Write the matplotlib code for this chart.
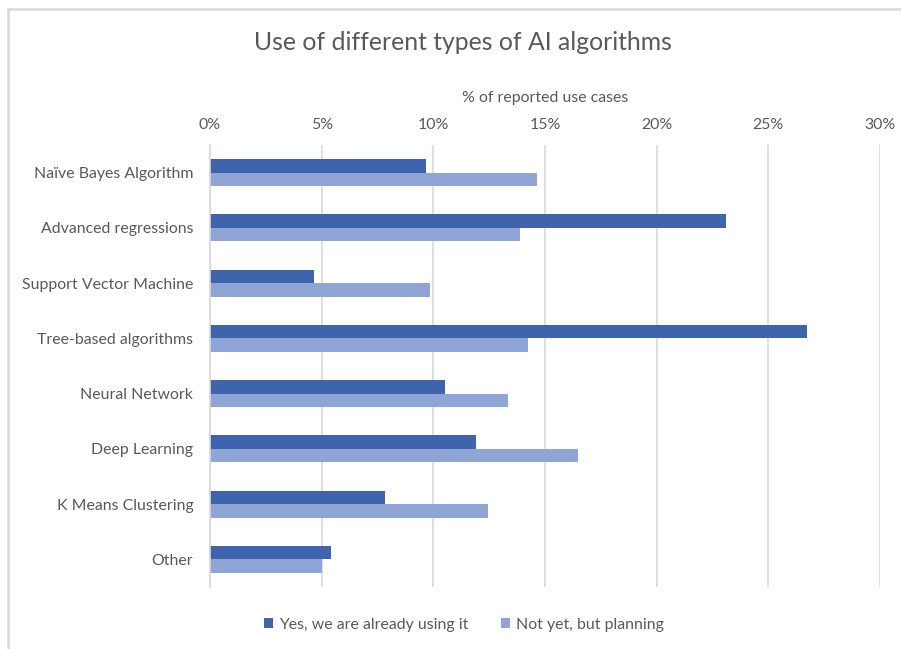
import matplotlib
matplotlib.use("Agg")
import matplotlib.pyplot as plt
import numpy as np
from matplotlib.lines import Line2D
from matplotlib.ticker import PercentFormatter

categories = ["Naïve Bayes Algorithm", "Advanced regressions", "Support Vector Machine",
              "Tree-based algorithms", "Neural Network", "Deep Learning",
              "K Means Clustering", "Other"]
using = [9.66, 23.1, 4.66, 26.72, 10.54, 11.9, 7.82, 5.41]
planning = [14.66, 13.88, 9.87, 14.25, 13.34, 16.49, 12.43, 5.0]
series_names = ["Yes, we are already using it", "Not yet, but planning"]

dark = "#3E64AD"
light = "#8FA5D5"
text_c = "#595959"
grid_c = "#D9D9D9"

plt.rcParams['font.family'] = ['Lato', 'DejaVu Sans']

fig = plt.figure(figsize=(9.01, 6.49), dpi=100)
ax = fig.add_axes([210/901, 1 - 587/649, 670/901, 442/649])

y = np.arange(len(categories))
h = 0.245
ax.barh(y - h/2, using, height=h, color=dark, label=series_names[0])
ax.barh(y + h/2, planning, height=h, color=light, label=series_names[1])

ax.set_ylim(len(categories) - 0.5, -0.5)
ax.set_xlim(0, 30)
ax.set_yticks(y)
ax.set_yticklabels(categories, fontsize=11.4, color=text_c)
ax.set_xticks(np.arange(0, 31, 5))
ax.xaxis.set_major_formatter(PercentFormatter(decimals=0))
ax.xaxis.tick_top()
ax.xaxis.set_label_position("top")
ax.tick_params(axis="x", length=0, labelsize=11.4, labelcolor=text_c, pad=9)
ax.tick_params(axis="y", length=0, pad=12)
ax.set_xlabel("% of reported use cases", fontsize=11.4, color=text_c, labelpad=12)
ax.grid(axis="x", color=grid_c, linewidth=1.2)
ax.set_axisbelow(True)
for s in ["top", "right", "bottom"]:
    ax.spines[s].set_visible(False)
ax.spines["left"].set_color(grid_c)
ax.spines["left"].set_linewidth(1.2)

fig.text(463/901, 1 - 42/649, "Use of different types of AI algorithms",
         ha="center", va="center", fontsize=17.8, color=text_c)

handles, labels = ax.get_legend_handles_labels()
fig.legend(handles, labels, loc="center", bbox_to_anchor=(464/901, 1 - 625/649),
           ncol=2, frameon=False, fontsize=11.4, labelcolor=text_c,
           handlelength=0.6, handleheight=0.6, handletextpad=0.4, columnspacing=2.0)

# chart border (only top and left visible in the crop)
fig.add_artist(Line2D([7.5/901, 1], [1 - 8.5/649, 1 - 8.5/649], color=grid_c, linewidth=1.8))
fig.add_artist(Line2D([7.5/901, 7.5/901], [0, 1 - 8.5/649], color=grid_c, linewidth=1.8))

fig.savefig("out.png", dpi=100)
